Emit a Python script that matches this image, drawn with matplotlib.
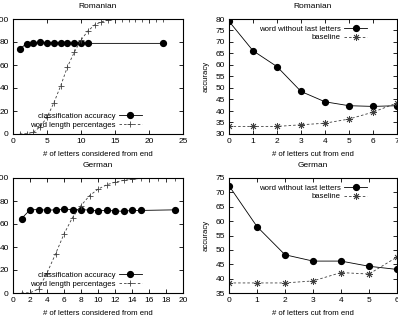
import matplotlib
matplotlib.use('Agg')
import matplotlib.pyplot as plt

plt.rcParams['font.family'] = ['Liberation Sans', 'DejaVu Sans']
plt.rcParams['font.size'] = 6

# Romanian, left panel
ro_len = [1, 2, 3, 4, 5, 6, 7, 8, 9, 10, 11, 22]
ro_acc = [74, 78.6, 79.1, 79.6, 79.4, 79.4, 79.3, 79.0, 78.8, 79.3, 78.8, 78.8]
ro_pct_x = list(range(1, 23))
ro_pct = [0, 0.3, 1.5, 6.4, 14.5, 27, 41.7, 58.3, 71, 81.7, 89.5, 94.8, 97.6, 99, 99.7,
          100, 100, 100, 100, 100, 100, 100]

# German, left panel
de_len = [1, 2, 3, 4, 5, 6, 7, 8, 9, 10, 11, 12, 13, 14, 15, 19]
de_acc = [64.7, 72.3, 72.6, 72.0, 72.3, 73.0, 72.5, 72.6, 72.0, 71.4, 72.0, 71.3, 71.1,
          71.8, 71.8, 72.3]
de_pct_x = list(range(1, 20))
de_pct = [0, 0.2, 3.5, 17.4, 33.9, 51.3, 65.6, 76, 84.6, 90.3, 94, 96.4, 97.9, 99,
          99.6, 99.9, 100, 100, 100]

# Romanian, right panel
ro_cut = [0, 1, 2, 3, 4, 5, 6, 7]
ro_word = [79, 66.2, 59.3, 48.5, 44.0, 42.3, 42.0, 42.3]
ro_base = [33.3, 33.3, 33.3, 34.0, 34.7, 36.5, 39.5, 43.5]

# German, right panel
de_cut = [0, 1, 2, 3, 4, 5, 6]
de_word = [72.3, 58.1, 48.3, 46.1, 46.1, 44.3, 43.2]
de_base = [38.5, 38.5, 38.5, 39.2, 42.1, 41.6, 47.5]

W, H = 398, 317
fig = plt.figure(figsize=(W / 100, H / 100), dpi=100)


def px_axes(l, t, r, b):
    return fig.add_axes([l / W, 1 - b / H, (r - l) / W, (b - t) / H])


def style(ax):
    ax.tick_params(direction='in', length=3, width=0.6, top=True, right=True,
                   labelsize=6, pad=3)
    for s in ax.spines.values():
        s.set_linewidth(0.8)


solid = dict(color='black', lw=0.6, marker='o', ms=4.2)
dashed = dict(color='0.25', lw=0.6, ls=(0, (3, 2.5)))
star = (8, 2, 0)
lfs = 5.6

panels = [
    ('Romanian', ro_len, ro_acc, ro_pct_x, ro_pct, 25, 5, (13, 19, 183, 134)),
    ('German', de_len, de_acc, de_pct_x, de_pct, 20, 2, (13, 178, 183, 293)),
]
for title, lx, ly, px_, py, xmax, xstep, box in panels:
    ax = px_axes(*box)
    style(ax)
    ax.plot(lx, ly, label='classification accuracy', **solid)
    ax.plot(px_, py, label='word length percentages', marker='+', ms=5, mew=0.6, **dashed)
    ax.set_xlim(0, xmax)
    ax.set_ylim(0, 100)
    ax.set_xticks(range(0, xmax + 1, xstep))
    ax.set_yticks(range(0, 101, 20))
    ax.set_title(title, fontsize=6, pad=8)
    ax.set_xlabel('# of letters considered from end', fontsize=lfs, labelpad=4)
    ax.legend(loc='lower right', bbox_to_anchor=(0.79, 0.0), frameon=False,
              markerfirst=False, fontsize=lfs, handlelength=3.0, handletextpad=0.4,
              labelspacing=0.15, borderpad=0.2)

panels = [
    ('Romanian', ro_cut, ro_word, ro_base, 7, (30, 80), (229, 19, 397, 134)),
    ('German', de_cut, de_word, de_base, 6, (35, 75), (229, 178, 397, 293)),
]
for title, cx, wy, by, xmax, ylim, box in panels:
    ax = px_axes(*box)
    style(ax)
    ax.plot(cx, wy, label='word without last letters', **solid)
    ax.plot(cx, by, label='baseline', marker=star, ms=5, mew=0.6, **dashed)
    ax.set_xlim(0, xmax)
    ax.set_ylim(*ylim)
    ax.set_xticks(range(0, xmax + 1))
    ax.set_yticks(range(ylim[0], ylim[1] + 1, 5))
    ax.set_title(title, fontsize=6, pad=8)
    ax.set_xlabel('# of letters cut from end', fontsize=lfs, labelpad=4)
    ax.set_ylabel('accuracy', fontsize=lfs, labelpad=4)
    ax.legend(loc='upper right', bbox_to_anchor=(0.86, 1.0), frameon=False,
              markerfirst=False, fontsize=lfs, handlelength=3.0, handletextpad=0.4,
              labelspacing=0.15, borderpad=0.3)

fig.savefig('out.png', dpi=100)
